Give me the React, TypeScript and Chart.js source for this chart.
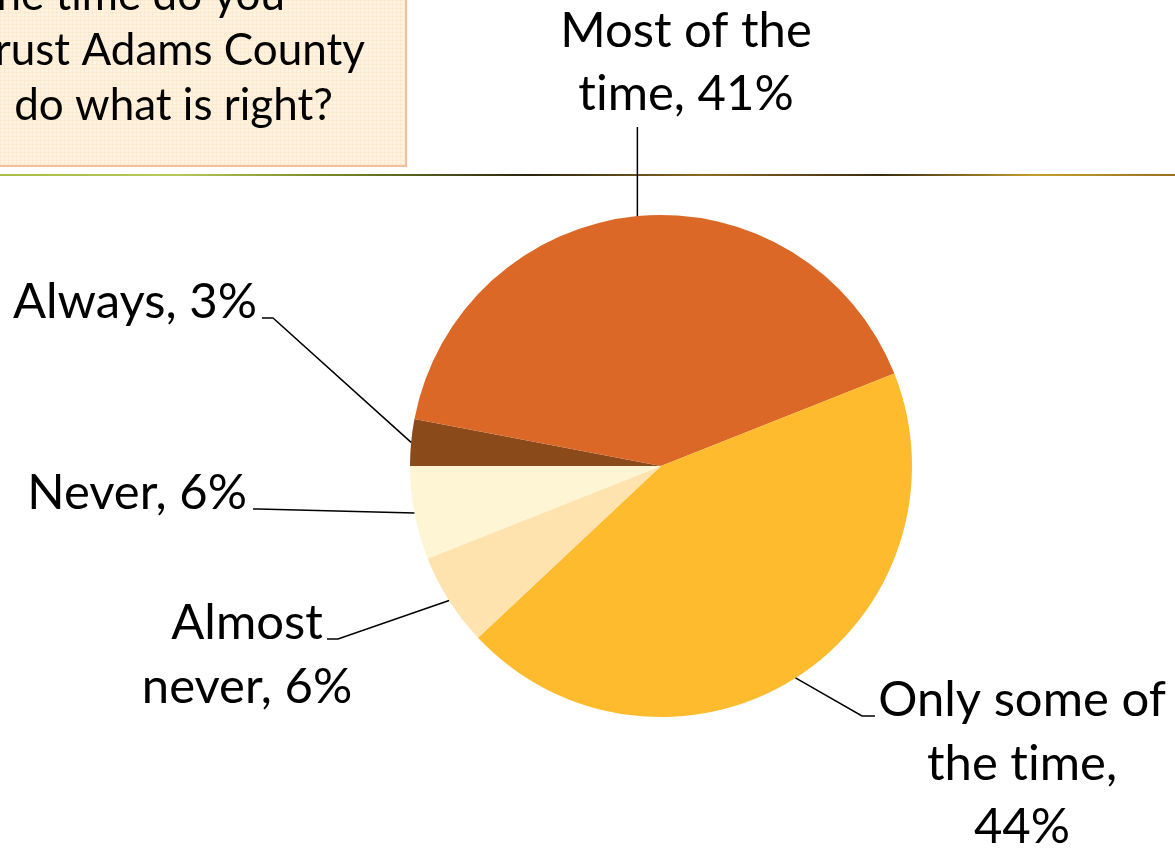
import React, { useEffect, useRef } from "react";
import { Chart, registerables } from "chart.js";

Chart.register(...registerables);

// ---- data ----
const categories = ["Always", "Most of the time", "Only some of the time", "Almost never", "Never"];
const percents = [3, 41, 44, 6, 6];
const sliceColors = ["#8B4A1A", "#DC6828", "#FEBB2E", "#FEE3AE", "#FEF5D4"];
const labelLines = [
  ["Always, 3%"],
  ["Most of the", "time, 41%"],
  ["Only some of", "the time,", "44%"],
  ["Almost", "never, 6%"],
  ["Never, 6%"],
];
const titleLines = ["How much of the time do you", "trust Adams County", "to do what is right?"];

// ---- annotation layout (label placement) ----
type LabelLayout = {
  elbow: [number, number] | null;
  end: [number, number];
  align: CanvasTextAlign;
  x: number;
  baselines: number[];
};
const labelLayout: LabelLayout[] = [
  { elbow: [273, 318], end: [262, 318], align: "right", x: 257, baselines: [318] },
  { elbow: null, end: [0, 127], align: "center", x: 686, baselines: [47, 110] },
  { elbow: [862, 716], end: [875, 716], align: "center", x: 1022, baselines: [716, 780, 843] },
  { elbow: [338, 639], end: [327, 639], align: "center", x: 247, baselines: [639, 703] },
  { elbow: [258, 509], end: [253, 509], align: "right", x: 247, baselines: [509] },
];
const titleLayout = { right: [285, 365, 333], baselines: [10, 65, 120] };

const FONT = "Lato, 'Open Sans', sans-serif";

const annotationPlugin = {
  id: "annotations",
  beforeDraw(chart: any) {
    const ctx: any = chart.ctx;
    const W = chart.width;
    ctx.save();
    // title box
    ctx.fillStyle = "#FEF3E1";
    ctx.fillRect(-5, -5, 411, 171);
    ctx.strokeStyle = "rgba(253, 226, 190, 0.45)";
    ctx.lineWidth = 1;
    for (let gx = 0; gx < 405; gx += 4) {
      ctx.beginPath();
      ctx.moveTo(gx + 0.5, 0);
      ctx.lineTo(gx + 0.5, 165);
      ctx.stroke();
    }
    for (let gy = 0; gy < 165; gy += 4) {
      ctx.beginPath();
      ctx.moveTo(0, gy + 0.5);
      ctx.lineTo(405, gy + 0.5);
      ctx.stroke();
    }
    ctx.strokeStyle = "#F2BEA0";
    ctx.lineWidth = 2;
    ctx.strokeRect(-5, -5, 411, 171);
    ctx.fillStyle = "#000";
    ctx.font = `44px ${FONT}`;
    ctx.letterSpacing = "0.01px";
    ctx.textBaseline = "alphabetic";
    ctx.textAlign = "right";
    titleLines.forEach((t, i) => {
      const words = t.split(" ");
      if (i === 2) {
        // leading word runs off the left edge of the frame
        const lead = words[0] + " ";
        const rest = words.slice(1).join(" ");
        ctx.fillText(rest, titleLayout.right[i], titleLayout.baselines[i]);
        const restW = ctx.measureText(rest).width;
        ctx.fillText(lead, titleLayout.right[i] - restW - 6, titleLayout.baselines[i]);
      } else {
        ctx.fillText(t, titleLayout.right[i], titleLayout.baselines[i]);
      }
    });
    // horizontal rule
    const g = ctx.createLinearGradient(0, 0, W, 0);
    g.addColorStop(0, "#A9BC45");
    g.addColorStop(0.15, "#B6C85A");
    g.addColorStop(0.3, "#6E7F24");
    g.addColorStop(0.45, "#2A2410");
    g.addColorStop(0.6, "#8C6A22");
    g.addColorStop(0.75, "#3A2A10");
    g.addColorStop(0.88, "#C8A030");
    g.addColorStop(1, "#987020");
    ctx.strokeStyle = g;
    ctx.lineWidth = 2;
    ctx.beginPath();
    ctx.moveTo(0, 175);
    ctx.lineTo(W, 175);
    ctx.stroke();
    ctx.restore();
  },
  afterDraw(chart: any) {
    const ctx: any = chart.ctx;
    const meta = chart.getDatasetMeta(0);
    ctx.save();
    ctx.strokeStyle = "#000";
    ctx.lineWidth = 1.5;
    ctx.fillStyle = "#000";
    ctx.font = `49px ${FONT}`;
    ctx.letterSpacing = "0.01px";
    ctx.textBaseline = "alphabetic";
    meta.data.forEach((arc: any, i: number) => {
      const p = arc.getProps(["x", "y", "startAngle", "endAngle", "outerRadius"], true);
      const mid = (p.startAngle + p.endAngle) / 2;
      const ax = p.x + Math.cos(mid) * p.outerRadius;
      const ay = p.y + Math.sin(mid) * p.outerRadius;
      const L = labelLayout[i];
      ctx.beginPath();
      ctx.moveTo(ax, ay);
      if (L.elbow) {
        ctx.lineTo(L.elbow[0], L.elbow[1]);
        ctx.lineTo(L.end[0], L.end[1]);
      } else {
        ctx.lineTo(ax, L.end[1]);
      }
      ctx.stroke();
      ctx.textAlign = L.align;
      labelLines[i].forEach((t, j) => ctx.fillText(t, L.x, L.baselines[j]));
    });
    ctx.restore();
  },
};

export default function App() {
  const ref = useRef<HTMLCanvasElement>(null);
  useEffect(() => {
    if (!ref.current) return;
    const chart = new Chart(ref.current, {
      type: "pie",
      data: {
        labels: categories,
        datasets: [
          {
            data: percents,
            backgroundColor: sliceColors,
            borderWidth: 0,
          },
        ],
      },
      options: {
        animation: false,
        responsive: true,
        maintainAspectRatio: false,
        rotation: -90,
        layout: { padding: { left: 410, right: 263, top: 215, bottom: 135 } },
        plugins: { legend: { display: false }, tooltip: { enabled: false } },
      },
      plugins: [annotationPlugin],
    });
    return () => chart.destroy();
  }, []);
  return (
    <div style={{ position: "fixed", left: 0, top: 0, width: 1175, height: 852, background: "#fff" }}>
      <canvas ref={ref} />
    </div>
  );
}
